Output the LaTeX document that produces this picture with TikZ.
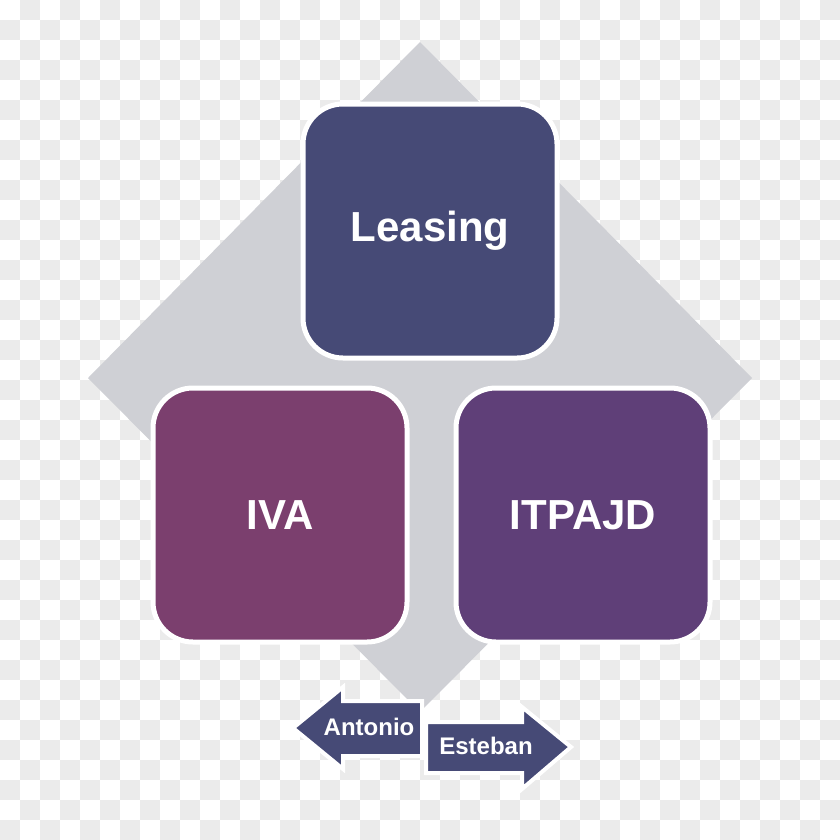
\documentclass[tikz,border=0pt]{standalone}
\usepackage{fontspec}
\setmainfont{Liberation Sans}
\definecolor{chk}{HTML}{EBEBEB}
\definecolor{dia}{HTML}{CFD0D5}
\definecolor{navy}{HTML}{464A76}
\definecolor{plum}{HTML}{7B3F6E}
\definecolor{grape}{HTML}{5F3F78}
\tikzset{
  tile/.style={draw=white, line width=5pt, rounded corners=40pt, minimum width=254pt, minimum height=254pt, inner sep=0pt, text=white, font=\bfseries\fontsize{42}{50}\selectfont},
  arrowshape/.style={fill=navy, draw=white, line width=4pt, line join=miter},
  arrowtext/.style={text=white, font=\bfseries\fontsize{24}{28}\selectfont, inner sep=0pt}
}
\begin{document}
\begin{tikzpicture}[x=1pt,y=-1pt]
\useasboundingbox (0,0) rectangle (840,839);
\fill[white] (0,0) rectangle (840,839);
\foreach \i in {0,...,41}{
  \foreach \j in {0,...,41}{
    \pgfmathtruncatemacro{\pp}{mod(\i+\j,2)}
    \ifnum\pp=1
      \fill[chk] (\i*20,\j*20) rectangle ++(20,20);
    \fi
  }
}
\fill[dia] (420,42) coordinate (dtop) -- (752,378) -- (420,712) -- (88,378) -- cycle;
\node[tile, fill=navy] (leasing) at (430,231) {Leasing};
\node[tile, fill=plum] (iva) at (280,515) {IVA};
\node[tile, fill=grape] (itpajd) at (583,515) {ITPAJD};
% arrows
\draw[arrowshape] (293,728) -- (343,687) -- (343,701) -- (422,701) -- (422,756) -- (343,756) -- (343,769) -- cycle;
\draw[arrowshape] (426,722) -- (522,722) -- (522,707) -- (571,747) -- (522,789) -- (522,773) -- (426,773) -- cycle;
\node[arrowtext] (antonio) at (369,727) {Antonio};
\node[arrowtext] (esteban) at (486,746) {Esteban};
\end{tikzpicture}
\end{document}
